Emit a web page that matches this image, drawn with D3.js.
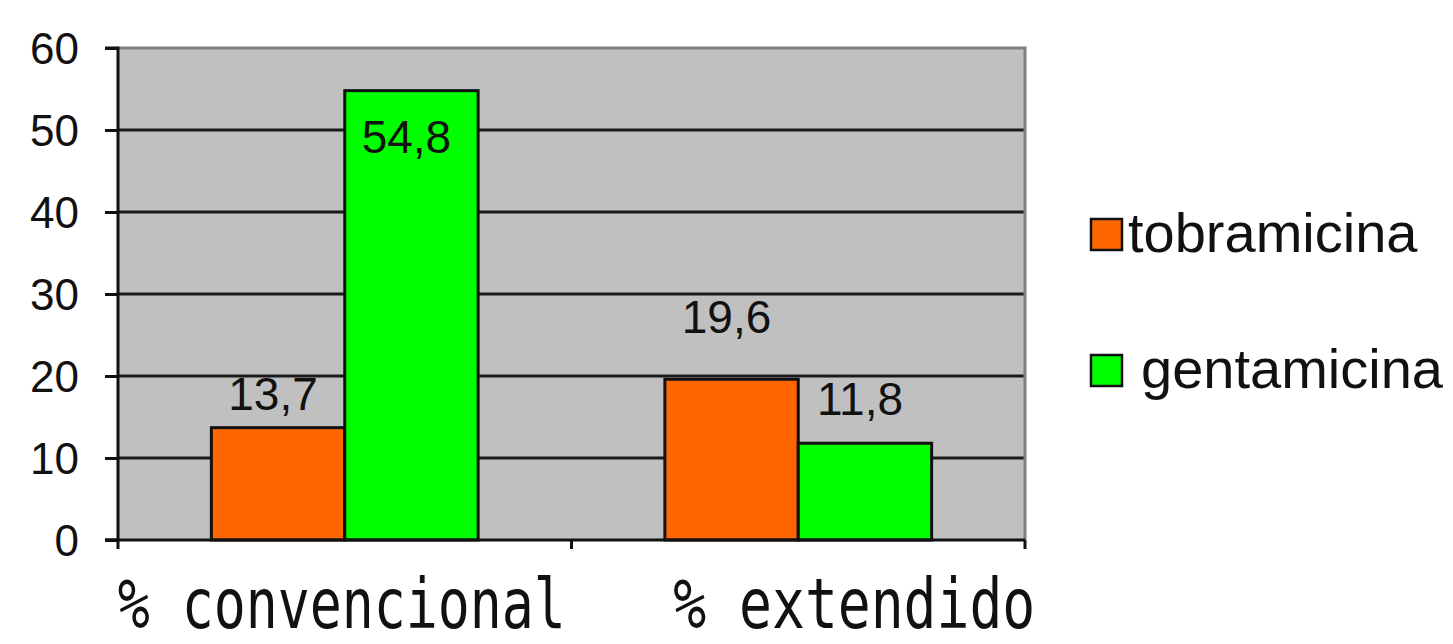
<!DOCTYPE html>
<html>
<head>
<meta charset="utf-8">
<script src="https://cdn.jsdelivr.net/npm/d3@7"></script>
<style>
  body { margin: 0; background: #fff; }
  .tick text { font-family: "Liberation Sans", Arial, sans-serif; }
</style>
</head>
<body>
<div class="chart"></div>
<script>
// chart data
var categories = ["% convencional", "% extendido"];
var seriesNames = ["tobramicina", "gentamicina"];
var tobramicina = [13.7, 19.6];
var gentamicina = [54.8, 11.8];
var yTicks = [0, 10, 20, 30, 40, 50, 60];

var seriesValues = [tobramicina, gentamicina];
var colors = ["#ff6600", "#00ff00"];

var svgWidth = 1453;
var svgHeight = 644;

var margin = { top: 48, right: 428, bottom: 104, left: 118 };
var width = svgWidth - margin.left - margin.right;
var height = svgHeight - margin.top - margin.bottom;

var svg = d3.select(".chart")
    .append("svg")
    .attr("width", svgWidth)
    .attr("height", svgHeight)
    .style("background", "#fff");

var chartGroup = svg.append("g")
    .attr("transform", `translate(${margin.left}, ${margin.top})`);

// scales
var x0 = d3.scaleBand()
    .domain(categories)
    .range([0, width])
    .padding(0);

var x1 = d3.scaleBand()
    .domain(seriesNames)
    .range([0, x0.bandwidth()])
    .paddingInner(0)
    .paddingOuter(0.7);

var yLinearScale = d3.scaleLinear()
    .domain([0, 60])
    .range([height, 0]);

// plot area
chartGroup.append("rect")
    .attr("x", 0)
    .attr("y", 0)
    .attr("width", width)
    .attr("height", height)
    .attr("fill", "#c0c0c0");

// gridlines
chartGroup.selectAll(".grid")
    .data(yTicks.filter(d => d > 0 && d < 60))
    .enter()
    .append("line")
    .attr("x1", 0)
    .attr("x2", width)
    .attr("y1", d => yLinearScale(d))
    .attr("y2", d => yLinearScale(d))
    .attr("stroke", "#1a1a1a")
    .attr("stroke-width", 3);

// top and right border
chartGroup.append("path")
    .attr("d", `M0,0H${width}V${height}`)
    .attr("fill", "none")
    .attr("stroke", "#808080")
    .attr("stroke-width", 3);

// bars
var groups = chartGroup.selectAll(".group")
    .data(categories)
    .enter()
    .append("g")
    .attr("transform", d => `translate(${x0(d)},0)`);

groups.selectAll("rect")
    .data((c, i) => seriesNames.map((s, j) => ({ s: s, v: seriesValues[j][i], j: j })))
    .enter()
    .append("rect")
    .attr("x", d => x1(d.s))
    .attr("y", d => yLinearScale(d.v))
    .attr("width", x1.bandwidth())
    .attr("height", d => height - yLinearScale(d.v))
    .attr("fill", d => colors[d.j])
    .attr("stroke", "#111")
    .attr("stroke-width", 3);

// data labels (placed like the original, offsets in px from bar top)
var labelDy = [[-18, -46], [62, -28]];
groups.selectAll(".lbl")
    .data((c, i) => seriesNames.map((s, j) => ({ s: s, v: seriesValues[j][i], j: j, i: i })))
    .enter()
    .append("text")
    .attr("x", d => x1(d.s) + x1.bandwidth() / 2 - 5)
    .attr("y", d => yLinearScale(d.v) + labelDy[d.j][d.i])
    .attr("text-anchor", "middle")
    .attr("font-family", "'Liberation Sans Narrow', 'Liberation Sans', Arial, sans-serif")
    .attr("font-size", 46)
    .attr("fill", "#111")
    .text(d => String(d.v).replace(".", ","));

// y axis
var leftAxis = d3.axisLeft(yLinearScale)
    .tickValues(yTicks)
    .tickSize(13)
    .tickPadding(26);

var yAxisG = chartGroup.append("g")
    .call(leftAxis);
yAxisG.select(".domain")
    .attr("d", `M-13,${height}H0V0H-13`)
    .attr("stroke", "#111")
    .attr("stroke-width", 3);
yAxisG.selectAll(".tick line")
    .attr("stroke", "#111")
    .attr("stroke-width", 3);
yAxisG.selectAll(".tick text")
    .attr("font-size", 44)
    .attr("fill", "#111")
    .attr("dy", "0.36em");

// x axis
chartGroup.append("line")
    .attr("x1", -13)
    .attr("x2", width)
    .attr("y1", height)
    .attr("y2", height)
    .attr("stroke", "#111")
    .attr("stroke-width", 3);

chartGroup.selectAll(".xtick")
    .data([0, x0(categories[1]), width])
    .enter()
    .append("line")
    .attr("x1", d => d)
    .attr("x2", d => d)
    .attr("y1", height)
    .attr("y2", height + 9)
    .attr("stroke", "#111")
    .attr("stroke-width", 3);

// category labels
var catDx = [-3, 56];
var catLen = [448, 362];
chartGroup.selectAll(".cat")
    .data(categories)
    .enter()
    .append("text")
    .attr("x", (d, i) => x0(d) + x0.bandwidth() / 2 + catDx[i])
    .attr("y", height + 88)
    .attr("text-anchor", "middle")
    .attr("font-family", "'DejaVu Sans Mono', monospace")
    .attr("font-size", 70)
    .attr("textLength", (d, i) => catLen[i])
    .attr("lengthAdjust", "spacingAndGlyphs")
    .attr("fill", "#111")
    .text(d => d);

// legend
var legend = svg.selectAll(".legend")
    .data(seriesNames)
    .enter()
    .append("g")
    .attr("transform", (d, i) => `translate(1091, ${219 + i * 136})`);

legend.append("rect")
    .attr("width", 31)
    .attr("height", 31)
    .attr("fill", (d, i) => colors[i])
    .attr("stroke", "#111")
    .attr("stroke-width", 2.5);

legend.append("text")
    .attr("x", (d, i) => i === 0 ? 37 : 50)
    .attr("y", 33)
    .attr("font-family", "'Liberation Sans', Arial, sans-serif")
    .attr("font-size", 56)
    .attr("fill", "#111")
    .text(d => d);
</script>
</body>
</html>
